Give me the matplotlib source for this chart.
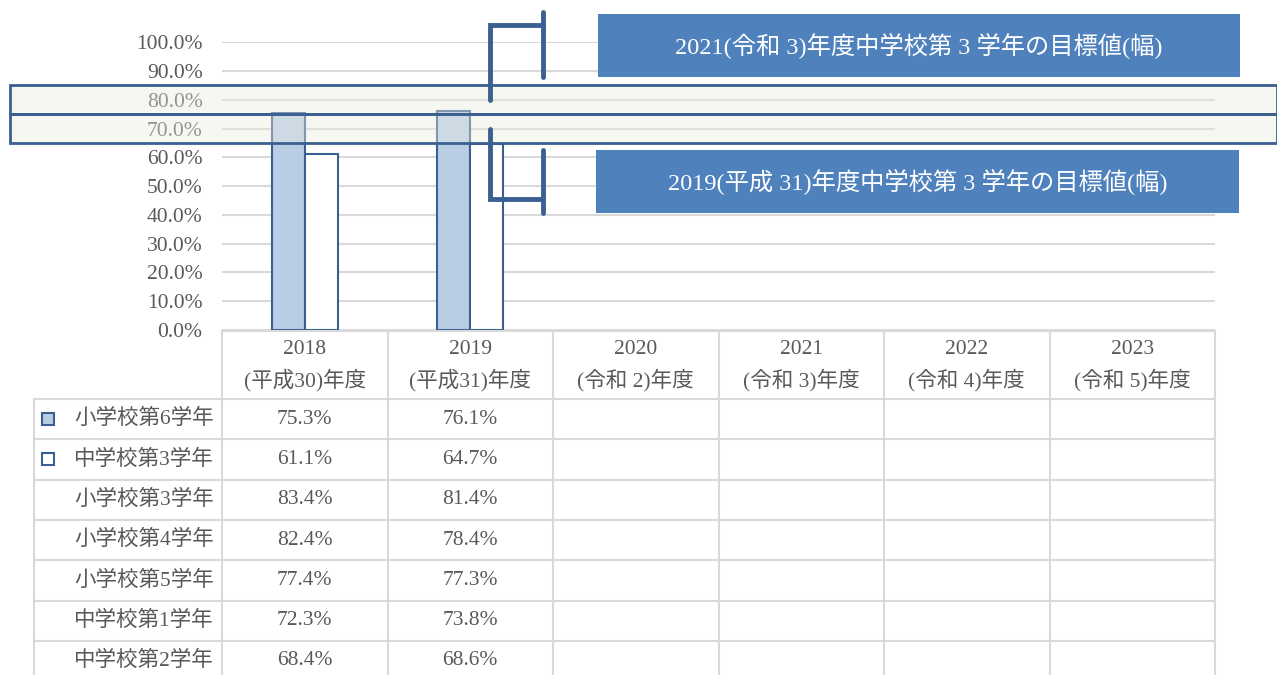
import matplotlib
matplotlib.use("Agg")
import matplotlib.pyplot as plt
from matplotlib.patches import Rectangle
from matplotlib.lines import Line2D
from matplotlib.transforms import blended_transform_factory
import numpy as np

plt.rcParams['font.family'] = ['Liberation Serif', 'Noto Sans CJK JP', 'DejaVu Sans']

# データ
years = ['2018', '2019', '2020', '2021', '2022', '2023']
eras = ['(平成30)年度', '(平成31)年度', '(令和 2)年度', '(令和 3)年度', '(令和 4)年度', '(令和 5)年度']
row_labels = ['小学校第6学年', '中学校第3学年', '小学校第3学年', '小学校第4学年',
              '小学校第5学年', '中学校第1学年', '中学校第2学年']
values = [
    [75.3, 76.1],
    [61.1, 64.7],
    [83.4, 81.4],
    [82.4, 78.4],
    [77.4, 77.3],
    [72.3, 73.8],
    [68.4, 68.6],
]
target_2021 = (75.0, 85.0)
target_2019 = (65.0, 75.0)
target_labels = ['2021(令和 3)年度中学校第 3 学年の目標値(幅)',
                 '2019(平成 31)年度中学校第 3 学年の目標値(幅)']

W, H = 1277, 675
TXT = '#595959'
GRID = '#d9d9d9'
DARK = '#3a5f91'
LIGHT = '#b9cde5'
BOX = '#4f81bd'
FS = 15.5

def fx(px):
    return px / W

def fy(py):
    return 1 - py / H

fig = plt.figure(figsize=(W / 100, H / 100), dpi=100)
ax = fig.add_axes([fx(222), fy(330), fx(1215) - fx(222), fy(42.3) - fy(330)])

# 棒グラフ
x = np.arange(len(values[0]))
ax.bar(x - 0.1, values[0], 0.2, color=LIGHT, edgecolor=DARK, linewidth=1.5, zorder=3)
ax.bar(x + 0.1, values[1], 0.2, color='white', edgecolor=DARK, linewidth=1.5, zorder=3)

ax.set_xlim(-0.5, len(years) - 0.5)
ax.set_ylim(0, 100)
ax.set_yticks(np.arange(0, 101, 10))
ax.set_yticklabels([f'{v:.1f}%' for v in np.arange(0, 101, 10)], color=TXT, fontsize=FS)
ax.set_xticks([])
ax.tick_params(axis='y', length=0, pad=14)
ax.yaxis.grid(True, color=GRID, linewidth=1.5, zorder=0)
ax.set_axisbelow(True)
for s in ax.spines.values():
    s.set_visible(False)

# 表
tx = blended_transform_factory(ax.transData, fig.transFigure)
left_col = -0.5 - (222 - 34) / 165.5
row_y = [399 + i * 40.3 for i in range(len(row_labels) + 1)]

def hline(x0, x1, py):
    fig.add_artist(Line2D([x0, x1], [fy(py), fy(py)], transform=tx, color=GRID, lw=1.5))

def vline(xd, py0, py1):
    fig.add_artist(Line2D([xd, xd], [fy(py0), fy(py1)], transform=tx, color=GRID, lw=1.5))

hline(-0.5, len(years) - 0.5, 331)
for py in row_y:
    hline(left_col, len(years) - 0.5, py)
for i in range(len(years) + 1):
    vline(i - 0.5, 331, H)
vline(left_col, row_y[0], H)

for i, (yr, era) in enumerate(zip(years, eras)):
    fig.text(i, fy(349), yr, transform=tx, ha='center', va='center', color=TXT, fontsize=FS)
    fig.text(i, fy(380), era, transform=tx, ha='center', va='center', color=TXT, fontsize=FS)

for r, (lab, vals) in enumerate(zip(row_labels, values)):
    cy = (row_y[r] + row_y[r + 1]) / 2
    fig.text(fx(214), fy(cy), lab, ha='right', va='center', color=TXT, fontsize=FS)
    for c, v in enumerate(vals):
        fig.text(c, fy(cy), f'{v:.1f}%', transform=tx, ha='center', va='center',
                 color=TXT, fontsize=FS)

# 凡例マーカー
for r, fc in enumerate([LIGHT, 'white']):
    cy = (row_y[r] + row_y[r + 1]) / 2
    fig.add_artist(Rectangle((fx(42), fy(cy + 6)), fx(12), 12 / H, facecolor=fc,
                             edgecolor=DARK, lw=1.5, transform=fig.transFigure))

# 目標値の帯
ty = blended_transform_factory(fig.transFigure, ax.transData)
for lo, hi in [target_2021, target_2019]:
    fig.add_artist(Rectangle((fx(10), lo), 1 - fx(10), hi - lo, facecolor='#ecece0',
                             alpha=0.4, edgecolor='none', transform=ty, zorder=5))
    fig.add_artist(Rectangle((fx(10), lo), 1 - fx(10), hi - lo, facecolor='none',
                             edgecolor=DARK, lw=2, transform=ty, zorder=5.5))

# かっこ
bx0, bx1 = 1.12, 1.44
bmid21 = sum(target_2021) / 2
bmid19 = sum(target_2019) / 2
brackets = [
    ([bx0, bx0, bx1], [bmid21, 106, 106]),
    ([bx1, bx1], [110.5, 88]),
    ([bx0, bx0, bx1], [bmid19, 45.5, 45.5]),
    ([bx1, bx1], [62.5, 40.5]),
]
for xs, ys in brackets:
    fig.add_artist(Line2D(xs, ys, transform=ax.transData, color=DARK, lw=3.5,
                          solid_capstyle='round', solid_joinstyle='miter', zorder=6))

# 注釈ボックス
for (x0, y0, x1, y1), lab in zip([(598, 14, 1240, 77), (596, 150, 1239, 213)], target_labels):
    fig.add_artist(Rectangle((fx(x0), fy(y1)), fx(x1) - fx(x0), (y1 - y0) / H,
                             facecolor=BOX, edgecolor='none', transform=fig.transFigure, zorder=7))
    fig.text(fx((x0 + x1) / 2), fy((y0 + y1) / 2), lab, ha='center', va='center',
             color='white', fontsize=17.5, zorder=8)

fig.savefig('out.png', dpi=100, facecolor='white')
